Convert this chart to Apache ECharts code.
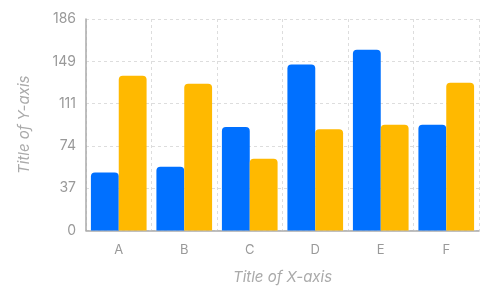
<!DOCTYPE html>
<html><head><meta charset="utf-8">
<script src="https://cdn.jsdelivr.net/npm/echarts@6/dist/echarts.min.js"></script>
<style>html,body{margin:0;padding:0;background:#fff}#c{width:500px;height:299px}</style>
</head><body><div id="c"></div>
<script>
const categories = ['A','B','C','D','E','F'];
const seriesBlue = [51, 56, 91, 146, 159, 93];
const seriesYellow = [136, 129, 63, 89, 93, 130];
const yTicks = [0, 37, 74, 111, 149, 186];
const xTitle = 'Title of X-axis';
const yTitle = 'Title of Y-axis';

const chart = echarts.init(document.getElementById('c'), null, {renderer:'canvas'});
const font = 'Inter';
const yMax = yTicks[yTicks.length-1];
const yStep = yMax/(yTicks.length-1);
chart.setOption({
  animation:false,
  grid:{left:86,right:21,top:19,bottom:68.5,containLabel:false},
  xAxis:{
    type:'category', data:categories, boundaryGap:true,
    name:xTitle, nameLocation:'middle', nameGap:39,
    nameTextStyle:{color:'#aaa',fontStyle:'italic',fontSize:15,fontFamily:font},
    axisLine:{lineStyle:{color:'#aaa',width:1.5}},
    axisTick:{show:false},
    axisLabel:{color:'#999',fontSize:13,fontFamily:font,margin:13},
    splitLine:{show:true,lineStyle:{color:'#ddd',type:[3,3]}}
  },
  yAxis:{
    type:'value', min:0, max:yMax, interval:yStep,
    name:yTitle, nameLocation:'middle', nameGap:54,
    nameTextStyle:{color:'#aaa',fontStyle:'italic',fontSize:15,fontFamily:font},
    axisLine:{show:true,lineStyle:{color:'#aaa',width:1.5}},
    axisTick:{show:false},
    axisLabel:{color:'#999',fontSize:14,fontFamily:font,margin:10,
      formatter:function(v){const i=Math.round(v/yStep);return String(yTicks[i]!==undefined?yTicks[i]:Math.round(v));}},
    splitLine:{show:true,lineStyle:{color:'#ddd',type:[3,3]}}
  },
  series:[
    {type:'bar',data:seriesBlue,barGap:'0%',barCategoryGap:'15%',
     itemStyle:{color:'#0070FF',borderRadius:[4,4,0,0]}},
    {type:'bar',data:seriesYellow,barGap:'0%',barCategoryGap:'15%',
     itemStyle:{color:'#FFB900',borderRadius:[4,4,0,0]}}
  ]
});
</script></body></html>
